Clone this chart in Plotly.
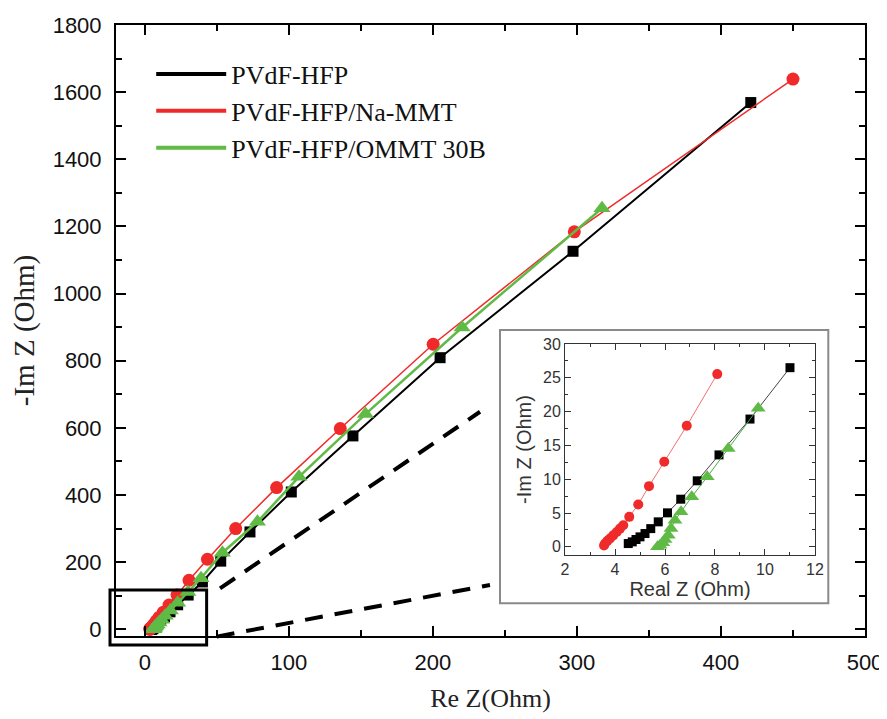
import plotly.graph_objects as go

# ---------------- data ----------------
series_names = ["PVdF-HFP", "PVdF-HFP/Na-MMT", "PVdF-HFP/OMMT 30B"]

# high-frequency region points, shown also in the inset
black_re_low = [4.53, 4.69, 4.84, 5.0, 5.2, 5.43, 5.73, 6.1, 6.63, 7.29, 8.16, 9.4, 11.0]
black_im_low = [0.49, 0.74, 1.09, 1.48, 1.97, 2.7, 3.7, 5.03, 7.05, 9.77, 13.6, 18.9, 26.5]
red_re_low = [3.56, 3.6, 3.7, 3.8, 3.93, 4.07, 4.2, 4.33, 4.57, 4.93, 5.36, 5.97, 6.87, 8.09]
red_im_low = [0.2, 0.5, 0.9, 1.23, 1.7, 2.2, 2.7, 3.2, 4.44, 6.27, 8.98, 12.6, 17.9, 25.55]
green_re_low = [5.7, 5.8, 5.91, 6.0, 6.13, 6.24, 6.4, 6.64, 7.07, 7.69, 8.53, 9.73]
green_im_low = [0.0, 0.25, 0.59, 1.09, 1.73, 2.7, 3.95, 5.18, 7.4, 10.36, 14.55, 20.5]

# remaining points of the full spectra
black_re_high = [13.7, 17.5, 22.8, 30.1, 40, 52.7, 73, 101.7, 144.5, 205, 297.3, 420.7]
black_im_high = [37.2, 52, 73, 102, 141, 203, 290, 409, 576, 809, 1126, 1569]
red_re_high = [10.05, 12.9, 16.8, 22.4, 30.7, 43.5, 63.1, 91.5, 135.7, 200.2, 298.2, 450]
red_im_high = [36, 51, 72, 102, 146, 208.6, 300, 422, 598, 849, 1184, 1639]
green_re_high = [11.6, 14.1, 17.7, 22.8, 29.9, 39, 53.9, 78.2, 107, 153.2, 220.3, 317.4]
green_im_high = [28.7, 40.2, 56.3, 79, 111, 152, 228, 320, 454, 641, 899, 1254]

main_x_ticks = [0, 100, 200, 300, 400, 500]
main_y_ticks = [0, 200, 400, 600, 800, 1000, 1200, 1400, 1600, 1800]
inset_x_ticks = [2, 4, 6, 8, 10, 12]
inset_y_ticks = [0, 5, 10, 15, 20, 25, 30]

# ---------------- styles ----------------
BLACK = "#000000"
RED = "#f02a2a"
GREEN = "#5fba46"
SERIF = "Liberation Serif, Times New Roman, serif"
SANS = "Liberation Sans, Arial, sans-serif"

fig = go.Figure()

main_specs = [
    (black_re_low + black_re_high, black_im_low + black_im_high, BLACK, 2, "square", 11),
    (red_re_low + red_re_high, red_im_low + red_im_high, RED, 1.5, "circle", 13),
    (green_re_low + green_re_high, green_im_low + green_im_high, GREEN, 2.5, "triangle-up", 15),
]
for (xs, ys, col, lw, sym, ms), name in zip(main_specs, series_names):
    fig.add_trace(go.Scatter(
        x=xs, y=ys, mode="lines+markers", name=name, showlegend=False,
        line=dict(color=col, width=lw),
        marker=dict(symbol=sym, size=ms, color=col, line=dict(width=0)),
        xaxis="x", yaxis="y"))

# legend entries (lines only, as in the reference)
for name, col in zip(series_names, [BLACK, RED, GREEN]):
    fig.add_trace(go.Scatter(
        x=[None], y=[None], mode="lines", name=name,
        line=dict(color=col, width=4), xaxis="x", yaxis="y"))

inset_specs = [
    (black_re_low, black_im_low, "#444444", "square", 9, BLACK),
    (red_re_low, red_im_low, "#f27070", "circle", 10, RED),
    (green_re_low, green_im_low, "#4aa84a", "triangle-up", 13, GREEN),
]
for (xs, ys, lcol, sym, ms, mcol), name in zip(inset_specs, series_names):
    fig.add_trace(go.Scatter(
        x=xs, y=ys, mode="lines+markers", name=name, showlegend=False,
        line=dict(color=lcol, width=1),
        marker=dict(symbol=sym, size=ms, color=mcol, line=dict(width=0)),
        xaxis="x2", yaxis="y2"))

main_axis_common = dict(
    showgrid=False, zeroline=False, showline=True, linecolor="black", linewidth=2,
    mirror="ticks", ticks="inside", ticklen=10, tickwidth=2, tickcolor="black",
    tickfont=dict(family=SANS, size=22, color="#111"), automargin=False,
)
inset_axis_common = dict(
    showgrid=False, zeroline=False, showline=True, linecolor="#333", linewidth=1,
    mirror="ticks", ticks="inside", ticklen=6, tickwidth=1, tickcolor="#333",
    tickfont=dict(family=SANS, size=16, color="#333"), automargin=False,
)

# the page body adds an 8px offset, so the figure is sized to fit the window
fig.update_layout(
    width=879, height=711,
    margin=dict(l=108, r=22, t=17, b=83, autoexpand=False),
    paper_bgcolor="white", plot_bgcolor="white",
    xaxis=dict(
        range=[-20, 500], tickvals=main_x_ticks, ticktext=[str(v) for v in main_x_ticks],
        minor=dict(dtick=50, tick0=0, ticks="inside", ticklen=6, tickwidth=2, tickcolor="black"),
        title=dict(text="Re Z(Ohm)", font=dict(family=SERIF, size=26, color="#222"), standoff=14),
        ticklabelstandoff=6,
        **main_axis_common),
    yaxis=dict(
        range=[-20, 1800], tickvals=main_y_ticks, ticktext=[str(v) for v in main_y_ticks],
        minor=dict(dtick=100, tick0=0, ticks="inside", ticklen=6, tickwidth=2, tickcolor="black"),
        title=dict(text="-Im Z (Ohm)", font=dict(family=SERIF, size=29, color="#222"), standoff=14),
        ticklabelstandoff=8,
        **main_axis_common),
    xaxis2=dict(
        domain=[0.5995, 0.9332], anchor="y2", range=[2, 12],
        tickvals=inset_x_ticks, ticktext=[str(v) for v in inset_x_ticks],
        minor=dict(dtick=1, tick0=0, ticks="inside", ticklen=3, tickwidth=1, tickcolor="#333"),
        title=dict(text="Real Z (Ohm)", font=dict(family=SANS, size=20, color="#333"), standoff=2),
        **inset_axis_common),
    yaxis2=dict(
        domain=[0.1326, 0.4779], anchor="x2", range=[-1.2, 30],
        tickvals=inset_y_ticks, ticktext=[str(v) for v in inset_y_ticks],
        minor=dict(dtick=2.5, tick0=0, ticks="inside", ticklen=3, tickwidth=1, tickcolor="#333"),
        title=dict(text="-Im Z (Ohm)", font=dict(family=SANS, size=20, color="#333"), standoff=6),
        **inset_axis_common),
    legend=dict(
        x=0.047, y=0.958, xanchor="left", yanchor="top",
        bgcolor="rgba(0,0,0,0)", borderwidth=0,
        font=dict(family=SERIF, size=26, color="#111"),
        itemwidth=70, tracegroupgap=0),
    shapes=[
        # inset frame
        dict(type="rect", xref="paper", yref="paper", x0=0.5127, y0=0.0535, x1=0.951, y1=0.5008,
             line=dict(color="#8a8a8a", width=2), fillcolor="white", layer="below"),
        # zoom box around origin
        dict(type="rect", xref="paper", yref="paper", x0=-0.008, y0=-0.0147, x1=0.121, y1=0.0753,
             line=dict(color="black", width=3), layer="above"),
        # dashed connector lines
        dict(type="line", xref="paper", yref="paper", x0=0.1389, y0=0.078, x1=0.486, y1=0.367,
             line=dict(color="black", width=4, dash="18px,12px")),
        dict(type="line", xref="paper", yref="paper", x0=0.1344, y0=-0.001, x1=0.4993, y1=0.0835,
             line=dict(color="black", width=4, dash="18px,12px")),
    ],
)

fig.write_html("out.html")
